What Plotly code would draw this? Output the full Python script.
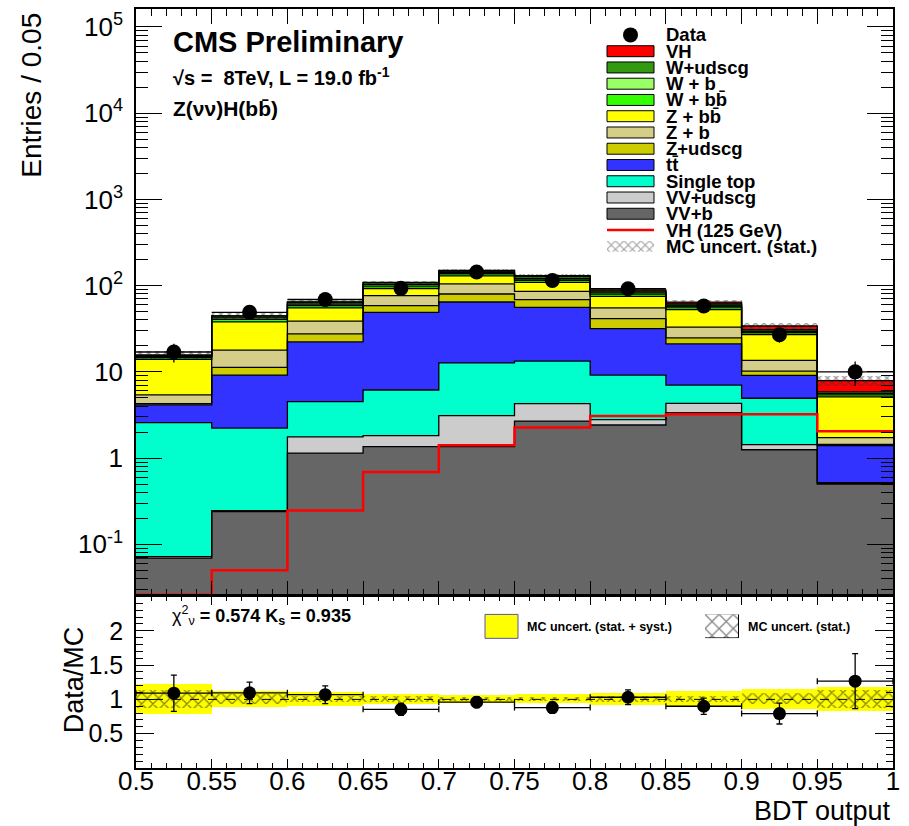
import numpy as np
import plotly.graph_objects as go

# ---------------------------------------------------------------- data
bin_edges = [0.5, 0.55, 0.6, 0.65, 0.7, 0.75, 0.8, 0.85, 0.9, 0.95, 1.0]

# background yields per bin (bottom of the stack first)
vv_b      = [0.069, 0.239, 1.14, 1.36, 1.36, 2.68, 2.42, 3.37, 1.25, 0.50]
vv_udscg  = [0.003, 0.006, 0.62, 0.46, 1.75, 1.60, 0.38, 0.93, 0.18, 0.01]
single_top = [2.51, 1.98, 2.75, 4.34, 9.59, 9.02, 6.38, 2.73, 3.51, 0.01]
ttbar     = [1.55, 6.96, 17.8, 42.9, 51.9, 42.8, 22.6, 14.1, 4.18, 0.88]
z_udscg   = [0.15, 2.09, 5.3, 9.6, 15.4, 12.8, 9.7, 3.7, 1.08, 0.04]
z_b       = [1.13, 6.63, 11.1, 17.9, 25.0, 17.0, 13.6, 8.2, 3.4, 0.29]
z_bb      = [8.54, 20.0, 16.4, 15.7, 25.0, 23.1, 20.1, 19.8, 13.6, 3.39]
w_bb      = [0.65, 2.7, 3.7, 6.3, 7.4, 7.8, 4.4, 3.4, 1.4, 0.30]
w_b       = [0.40, 1.7, 2.3, 4.0, 4.7, 4.8, 2.8, 2.1, 0.9, 0.18]
w_udscg   = [0.57, 2.35, 3.25, 5.5, 6.5, 6.8, 3.8, 2.9, 1.3, 0.25]
vh_125    = [0.026, 0.05, 0.246, 0.689, 1.41, 2.26, 3.08, 3.22, 3.22, 2.05]

data_counts = [17, 49, 69, 93, 144, 115, 92, 58, 27, 10]

# relative MC uncertainties
mc_stat_rel = [0.13, 0.07, 0.05, 0.04, 0.035, 0.035, 0.04, 0.045, 0.08, 0.13]
mc_tot_rel  = [0.22, 0.12, 0.10, 0.07, 0.06, 0.065, 0.09, 0.11, 0.14, 0.18]

main_ticks = [0.1, 1, 10, 100, 1e3, 1e4, 1e5]
main_ticktext = ["10<sup>-1</sup>", "1", "10", "10<sup>2</sup>", "10<sup>3</sup>",
                 "10<sup>4</sup>", "10<sup>5</sup>"]
ratio_xticktext = ["0.5", "0.55", "0.6", "0.65", "0.7", "0.75", "0.8", "0.85",
                   "0.9", "0.95", "1"]

# (legend label, yields, fill colour), bottom to top of the stack
components = [
    ("VV+b", vv_b, "#666666"),
    ("VV+udscg", vv_udscg, "#cccccc"),
    ("Single top", single_top, "#00ffcc"),
    ("t\u0074\u0304", ttbar, "#3333ff"),
    ("Z+udscg", z_udscg, "#cccc00"),
    ("Z + b", z_b, "#d4ce89"),
    ("Z + bb\u0304", z_bb, "#ffff00"),
    ("W + bb\u0304", w_bb, "#33ff00"),
    ("W + b", w_b, "#99ff66"),
    ("W+udscg", w_udscg, "#339911"),
    ("VH", vh_125, "#ff0000"),
]

# ---------------------------------------------------------------- derived
edges = np.array(bin_edges)
centers = 0.5 * (edges[:-1] + edges[1:])
width = edges[1] - edges[0]
cum = np.cumsum(np.array([c[1] for c in components], dtype=float), axis=0)
mc_total = cum[-1]
data = np.array(data_counts, dtype=float)
data_err = np.sqrt(data)
ratio = data / mc_total
ratio_err = data_err / mc_total
stat_rel = np.array(mc_stat_rel)
tot_rel = np.array(mc_tot_rel)

FONT = "Liberation Sans, Arial, Helvetica, sans-serif"
PL, PR, PT, PB = 136, 893, 7, 768
FIG_W, FIG_H = 909, 826


def px(x):
    return (x - PL) / (PR - PL)


def py(y):
    return (PB - y) / (PB - PT)


MAIN_DOM = [py(595), 1.0]
RATIO_DOM = [0.0, py(596)]

fig = go.Figure()

# stacked histograms: draw cumulative sums from the top down
for i in range(len(components) - 1, -1, -1):
    fig.add_trace(go.Bar(
        x=centers, y=cum[i], width=width,
        marker=dict(color=components[i][2], line=dict(width=0)),
        xaxis="x", yaxis="y", hoverinfo="skip"))

# histogram outlines
for i in range(len(components)):
    fig.add_trace(go.Scatter(
        x=edges, y=list(cum[i]) + [cum[i][-1]], mode="lines",
        line=dict(color="black", width=1.3, shape="hv"),
        xaxis="x", yaxis="y", hoverinfo="skip"))

# MC statistical uncertainty (hatched)
fig.add_trace(go.Bar(
    x=centers, base=mc_total * (1 - stat_rel), y=2 * mc_total * stat_rel, width=width,
    marker=dict(color="rgba(0,0,0,0)", line=dict(width=0),
                pattern=dict(shape="x", fgcolor="#333333", bgcolor="rgba(0,0,0,0)",
                             size=6, solidity=0.4)),
    xaxis="x", yaxis="y", hoverinfo="skip"))

# VH (125 GeV) signal line
fig.add_trace(go.Scatter(
    x=edges, y=list(vh_125) + [vh_125[-1]], mode="lines",
    line=dict(color="#ff0000", width=2.5, shape="hv"),
    xaxis="x", yaxis="y", hoverinfo="skip"))

# data points
fig.add_trace(go.Scatter(
    x=centers, y=data, mode="markers",
    marker=dict(color="black", size=15),
    error_y=dict(type="data", array=data_err, color="black", thickness=1.3, width=0),
    error_x=dict(type="constant", value=width / 2, color="black", thickness=1.3, width=0),
    xaxis="x", yaxis="y", hoverinfo="skip"))

# ---------------------------------------------------------------- ratio panel
fig.add_trace(go.Bar(
    x=centers, base=1 - tot_rel, y=2 * tot_rel, width=width,
    marker=dict(color="#ffff00", line=dict(width=0)),
    xaxis="x2", yaxis="y2", hoverinfo="skip"))
fig.add_trace(go.Bar(
    x=centers, base=1 - stat_rel, y=2 * stat_rel, width=width,
    marker=dict(color="rgba(0,0,0,0)", line=dict(width=0),
                pattern=dict(shape="x", fgcolor="#111111", bgcolor="rgba(0,0,0,0)",
                             size=8, solidity=0.3)),
    xaxis="x2", yaxis="y2", hoverinfo="skip"))
fig.add_trace(go.Scatter(
    x=[edges[0], edges[-1]], y=[1, 1], mode="lines",
    line=dict(color="black", width=1, dash="dash"),
    xaxis="x2", yaxis="y2", hoverinfo="skip"))
fig.add_trace(go.Scatter(
    x=centers, y=ratio, mode="markers",
    marker=dict(color="black", size=13),
    error_y=dict(type="data", array=ratio_err, color="black", thickness=1.3, width=3),
    error_x=dict(type="constant", value=width / 2, color="black", thickness=1.3, width=3),
    xaxis="x2", yaxis="y2", hoverinfo="skip"))


# ---------------------------------------------------------------- hatched legend swatches
def hatch_swatch(ax_id, x0, x1, y0, y1, fg, size, solidity, border):
    fig.add_trace(go.Bar(
        x=[0], y=[1], width=1,
        marker=dict(color="rgba(0,0,0,0)",
                    line=dict(width=1 if border else 0, color="black"),
                    pattern=dict(shape="x", fgcolor=fg, bgcolor="white",
                                 size=size, solidity=solidity)),
        xaxis="x" + ax_id, yaxis="y" + ax_id, hoverinfo="skip"))
    fig.update_layout(**{
        "xaxis" + ax_id: dict(domain=[px(x0), px(x1)], range=[-0.5, 0.5], visible=False,
                              anchor="y" + ax_id, fixedrange=True),
        "yaxis" + ax_id: dict(domain=[py(y1), py(y0)], range=[0, 1], visible=False,
                              anchor="x" + ax_id, fixedrange=True),
    })


# ---------------------------------------------------------------- legend
shapes = []
annotations = []
leg_x0, leg_x1, leg_text_x = 607, 654, 664
row_y0, row_dy = 33, 16.3
legend_rows = ["Data"] + [c[0] for c in components[::-1]] + ["VH (125 GeV)", "MC uncert. (stat.)"]
for k, label in enumerate(legend_rows):
    yc = row_y0 + k * row_dy
    annotations.append(dict(
        x=px(leg_text_x), y=py(yc), xref="paper", yref="paper", xanchor="left",
        yanchor="middle", text="<b>%s</b>" % label, showarrow=False,
        font=dict(family=FONT, size=18.5, color="black")))
    if label == "Data":
        continue
    if label == "VH (125 GeV)":
        shapes.append(dict(type="line", xref="paper", yref="paper",
                           x0=px(leg_x0), x1=px(leg_x1), y0=py(yc), y1=py(yc),
                           line=dict(color="#ff0000", width=2.5)))
        continue
    if label.startswith("MC uncert"):
        hatch_swatch("3", leg_x0, leg_x1, yc - 5.5, yc + 5.5, "#444444", 6, 0.35, False)
        continue
    color = [c[2] for c in components if c[0] == label][0]
    shapes.append(dict(type="rect", xref="paper", yref="paper",
                       x0=px(leg_x0), x1=px(leg_x1), y0=py(yc + 5.5), y1=py(yc - 5.5),
                       fillcolor=color, line=dict(color="black", width=1)))

# data marker in the legend
fig.add_trace(go.Scatter(
    x=[0], y=[0], mode="markers", marker=dict(color="black", size=15),
    xaxis="x5", yaxis="y5", hoverinfo="skip"))
fig.update_layout(
    xaxis5=dict(domain=[px(620), px(641)], range=[-1, 1], visible=False, anchor="y5"),
    yaxis5=dict(domain=[py(row_y0 + 10), py(row_y0 - 10)], range=[-1, 1], visible=False,
                anchor="x5"))

# ratio legend
shapes.append(dict(type="rect", xref="paper", yref="paper",
                   x0=px(485), x1=px(518), y0=py(638), y1=py(614),
                   fillcolor="#ffff00", line=dict(color="#5555aa", width=1)))
hatch_swatch("4", 705, 739, 614, 638, "#111111", 10, 0.25, True)
annotations.append(dict(x=px(525), y=py(627), xref="paper", yref="paper", xanchor="left",
                        yanchor="middle", text="<b>MC uncert. (stat. + syst.)</b>",
                        showarrow=False, font=dict(family=FONT, size=12.5, color="black")))
annotations.append(dict(x=px(746), y=py(627), xref="paper", yref="paper", xanchor="left",
                        yanchor="middle", text="<b>MC uncert. (stat.)</b>",
                        showarrow=False, font=dict(family=FONT, size=12.5, color="black")))

# header texts
annotations += [
    dict(x=px(171), y=py(40), xref="paper", yref="paper", xanchor="left", yanchor="middle",
         text="<b>CMS Preliminary</b>", showarrow=False,
         font=dict(family=FONT, size=29, color="black")),
    dict(x=px(171), y=py(75), xref="paper", yref="paper", xanchor="left", yanchor="middle",
         text="<b>\u221As =  8TeV, L = 19.0 fb<sup>-1</sup></b>", showarrow=False,
         font=dict(family=FONT, size=20, color="black")),
    dict(x=px(171), y=py(107), xref="paper", yref="paper", xanchor="left", yanchor="middle",
         text="<b>Z(\u03bd\u03bd)H(bb\u0304)</b>", showarrow=False,
         font=dict(family=FONT, size=21, color="black")),
    dict(x=px(170), y=py(615), xref="paper", yref="paper", xanchor="left", yanchor="middle",
         text="\u03c7<sup>2</sup><sub>\u03bd</sub><b> = 0.574 K<sub>s</sub> = 0.935</b>",
         showarrow=False, font=dict(family=FONT, size=18, color="black")),
    # axis titles
    dict(x=px(32), y=py(94), xref="paper", yref="paper", xanchor="center", yanchor="middle",
         text="Entries / 0.05", textangle=-90, showarrow=False,
         font=dict(family=FONT, size=28, color="black")),
    dict(x=px(74), y=py(680), xref="paper", yref="paper", xanchor="center", yanchor="middle",
         text="Data/MC", textangle=-90, showarrow=False,
         font=dict(family=FONT, size=27, color="black")),
    dict(x=px(893), y=py(811), xref="paper", yref="paper", xanchor="right", yanchor="middle",
         text="BDT output", showarrow=False,
         font=dict(family=FONT, size=27, color="black")),
]

axis_common = dict(showgrid=False, zeroline=False, showline=True, linecolor="black",
                   linewidth=1.5, mirror="allticks", ticks="inside", tickcolor="black",
                   tickwidth=1.2)

fig.update_layout(
    width=FIG_W, height=FIG_H,
    margin=dict(l=PL, r=FIG_W - PR, t=PT, b=FIG_H - PB),
    paper_bgcolor="white", plot_bgcolor="white",
    barmode="overlay", bargap=0, showlegend=False,
    font=dict(family=FONT, color="black"),
    xaxis=dict(axis_common, domain=[0, 1], range=[0.5, 1.0], anchor="y",
               tick0=0.5, dtick=0.05, ticklen=15, showticklabels=False,
               minor=dict(dtick=0.01, ticklen=7, ticks="inside", tickcolor="black",
                          tickwidth=1.2)),
    yaxis=dict(axis_common, domain=MAIN_DOM, type="log", range=[-1.593, 5.208],
               anchor="x", tickmode="array", tickvals=main_ticks, ticktext=main_ticktext,
               ticklen=26, tickfont=dict(size=26, family=FONT), ticklabelstandoff=6,
               minor=dict(dtick="D1", ticklen=12, ticks="inside", tickcolor="black",
                          tickwidth=1.2)),
    xaxis2=dict(axis_common, domain=[0, 1], range=[0.5, 1.0], anchor="y2",
                tickmode="array", tickvals=list(bin_edges), ticktext=ratio_xticktext,
                ticklen=9, tickfont=dict(size=26, family=FONT), ticklabelstandoff=-11,
                minor=dict(dtick=0.01, tick0=0.5, ticklen=5, ticks="inside",
                           tickcolor="black", tickwidth=1.2)),
    yaxis2=dict(axis_common, domain=RATIO_DOM, range=[0, 2.5], anchor="x2",
                tickmode="array", tickvals=[0.5, 1, 1.5, 2], ticktext=["0.5", "1", "1.5", "2"],
                ticklen=18, tickfont=dict(size=25, family=FONT), ticklabelstandoff=6,
                minor=dict(dtick=0.1, tick0=0, ticklen=7, ticks="inside", tickcolor="black",
                           tickwidth=1.2)),
    shapes=shapes,
    annotations=annotations,
)

fig.write_html("out.html")
